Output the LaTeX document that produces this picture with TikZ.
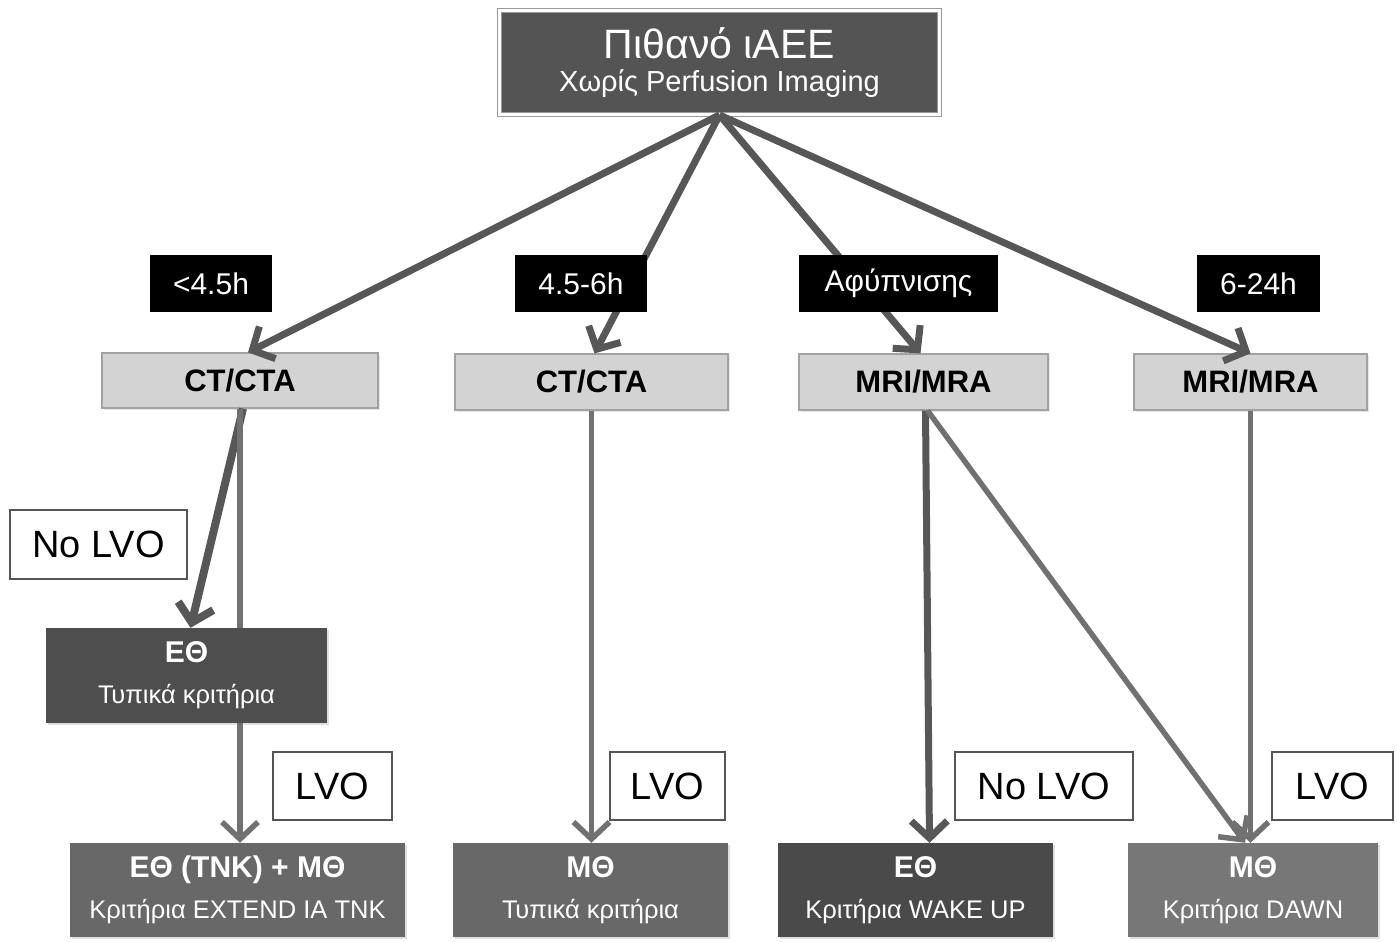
\documentclass[tikz,border=0pt]{standalone}
\usepackage{fontspec}
\setmainfont{Liberation Sans}
\usetikzlibrary{arrows.meta,shadows}
\definecolor{headfill}{HTML}{545454}
\definecolor{scanfill}{HTML}{D3D3D3}
\definecolor{scanline}{HTML}{A2A2A2}
\definecolor{lvoline}{HTML}{555555}
\definecolor{etfill}{HTML}{4E4E4E}
\definecolor{mtfill}{HTML}{686868}
\definecolor{arrdark}{HTML}{575757}
\definecolor{arrlight}{HTML}{717171}
\tikzset{
  headbox/.style={rectangle, inner sep=0pt, align=center, fill=headfill, draw=gray!80,
    double=white, double distance=3pt, line width=1pt, text=white},
  tagbox/.style={rectangle, inner sep=0pt, fill=black, text=white, font=\fontsize{30}{36}\selectfont},
  scanbox/.style={rectangle, inner sep=0pt, fill=scanfill, draw=scanline, line width=1.2pt,
    font=\bfseries\fontsize{31}{36}\selectfont,
    drop shadow={shadow xshift=1.5pt, shadow yshift=-1.5pt, opacity=.2}},
  lvobox/.style={rectangle, inner sep=0pt, fill=white, draw=lvoline, line width=2pt,
    font=\fontsize{38}{44}\selectfont},
  treatbox/.style={rectangle, inner sep=0pt, align=center, text=white,
    font=\fontsize{25.5}{41}\selectfont,
    drop shadow={shadow xshift=2pt, shadow yshift=-2pt, opacity=.25}},
  darkarrow/.style={draw=arrdark, line width=7pt, -{Straight Barb[length=17pt,width=36pt]}},
  lightarrow/.style={draw=arrlight, line width=5.5pt, -{Straight Barb[length=17pt,width=36pt]}},
}
\begin{document}
\begin{tikzpicture}[x=1pt,y=-1pt]
  \useasboundingbox (0,0) rectangle (1397,942);
  % top of the tree
  \node[headbox, minimum width=440, minimum height=104] (head) at (719.5,62.5)
    {{\fontsize{41}{41}\selectfont Πιθανό ιΑΕΕ}\\[9pt]{\fontsize{29}{30}\selectfont Χωρίς Perfusion Imaging}};
  % imaging
  \node[scanbox, minimum width=276, minimum height=55] (ct1) at (240,380.5) {CT/CTA};
  \node[scanbox, minimum width=273, minimum height=56] (ct2) at (591.5,382) {CT/CTA};
  \node[scanbox, minimum width=249, minimum height=56] (mr1) at (923.5,382) {MRI/MRA};
  \node[scanbox, minimum width=233, minimum height=56] (mr2) at (1250.5,382) {MRI/MRA};
  % treatment
  \node[treatbox, fill=etfill, minimum width=281, minimum height=95] (et1) at (186.5,675.5)
    {{\bfseries\fontsize{30}{41}\selectfont ΕΘ}\\Τυπικά κριτήρια};
  \node[treatbox, fill=mtfill, minimum width=335, minimum height=94] (tr1) at (237.5,890)
    {{\bfseries\fontsize{30}{41}\selectfont ΕΘ (TNK) + ΜΘ}\\Κριτήρια EXTEND IA TNK};
  \node[treatbox, fill=mtfill, minimum width=275, minimum height=94] (tr2) at (590.5,890)
    {{\bfseries\fontsize{30}{41}\selectfont ΜΘ}\\Τυπικά κριτήρια};
  \node[treatbox, fill=etfill!95!black, minimum width=275, minimum height=94] (tr3) at (915.5,890)
    {{\bfseries\fontsize{30}{41}\selectfont ΕΘ}\\Κριτήρια WAKE UP};
  \node[treatbox, fill=mtfill!90!white, minimum width=250, minimum height=94] (tr4) at (1253,890)
    {{\bfseries\fontsize{30}{41}\selectfont ΜΘ}\\Κριτήρια DAWN};
  % connectors
  \draw[darkarrow] (head.south) -- ([xshift=8pt]ct1.north);
  \draw[darkarrow] (head.south) -- ([xshift=3pt]ct2.north);
  \draw[darkarrow] (head.south) -- ([xshift=-3pt]mr1.north);
  \draw[darkarrow] (head.south) -- (mr2.north);
  \draw[darkarrow, line width=8pt] ([xshift=3pt]ct1.south) -- ([xshift=4pt]et1.north);
  \draw[arrlight, line width=5.5pt] (ct1.south) -- (ct1.south |- et1.north);
  \draw[lightarrow] (ct1.south |- et1.south) -- (ct1.south |- tr1.north);
  \draw[lightarrow] (ct2.south) -- (ct2.south |- tr2.north);
  \draw[darkarrow] ([xshift=2pt]mr1.south) -- ([xshift=14pt]tr3.north);
  \draw[lightarrow] ([xshift=4pt]mr1.south) -- ([xshift=-8pt]tr4.north);
  \draw[lightarrow] (mr2.south) -- (mr2.south |- tr4.north);
  % time windows
  \node[tagbox, minimum width=122, minimum height=57] (t1) at (211,283.5) {<4.5h};
  \node[tagbox, minimum width=132, minimum height=57] (t2) at (581,283.5) {4.5-6h};
  \node[tagbox, minimum width=199, minimum height=57] (t3) at (898.5,283.5) {Αφύπνισης};
  \node[tagbox, minimum width=123, minimum height=57] (t4) at (1258.5,283.5) {6-24h};
  % occlusion labels
  \node[lvobox, minimum width=177, minimum height=69] (n1) at (98.5,544.5) {No LVO};
  \node[lvobox, minimum width=119, minimum height=68] (l1) at (332.5,786) {LVO};
  \node[lvobox, minimum width=115, minimum height=68] (l2) at (667.5,786) {LVO};
  \node[lvobox, minimum width=178, minimum height=68] (n2) at (1044,786) {No LVO};
  \node[lvobox, minimum width=121, minimum height=68] (l3) at (1332.5,786) {LVO};
\end{tikzpicture}
\end{document}
